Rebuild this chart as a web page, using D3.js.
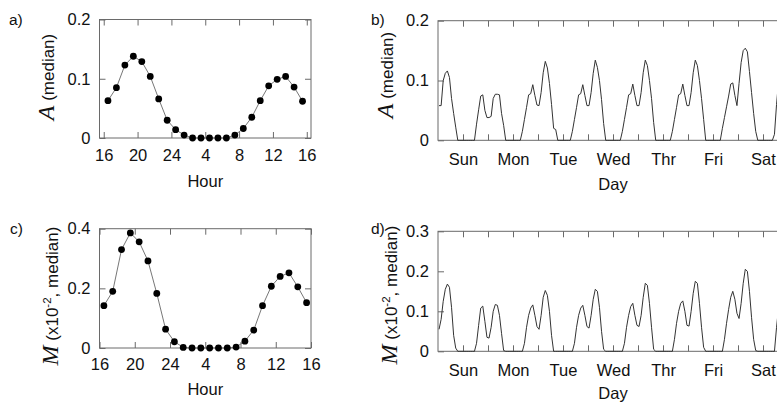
<!DOCTYPE html>
<html><head><meta charset="utf-8">
<script src="https://cdn.jsdelivr.net/npm/d3@7"></script>
<style>
body{margin:0;background:#fff}
svg{display:block}
text{font-family:"Liberation Sans",Arial,Helvetica,sans-serif;fill:#111}
</style>
</head><body>
<svg id="chart" width="777" height="402"></svg>
<script>
// ---------- data ----------
const hourX = [16.5,17.5,18.5,19.5,20.5,21.5,22.5,23.5,24.5,25.5,26.5,27.5,28.5,29.5,30.5,31.5,32.5,33.5,34.5,35.5,36.5,37.5,38.5,39.5];
const A_hour = [0.063,0.085,0.123,0.138,0.129,0.104,0.066,0.030,0.014,0.005,0,0,0,0,0,0.005,0.016,0.035,0.063,0.088,0.099,0.104,0.086,0.062];
const M_hour = [0.142,0.190,0.330,0.386,0.356,0.292,0.183,0.063,0.021,0.002,0,0,0,0,0,0.003,0.023,0.060,0.142,0.207,0.240,0.252,0.205,0.152];
const hourTicks = [16,20,24,28,32,36,40];
const hourTickLabels = ["16","20","24","4","8","12","16"];

// weekly hourly medians, one value per hour from the start of the window
const A_week = [
 0.058,0.058,0.100,0.112,0.116,0.105,0.070,0.045,0.022,0,
 0,0,0,0,0,0,0,0,0.027,0.051,
 0.074,0.076,0.050,0.038,0.038,0.040,0.070,0.077,0.077,0.076,
 0.045,0.025,0,0,0,0,0,0,0,0,
 0.015,0.035,0.055,0.076,0.078,0.093,0.075,0.059,0.058,0.080,
 0.113,0.132,0.121,0.095,0.060,0.020,0.018,0,0,0,
 0,0,0,0,0.015,0.035,0.055,0.076,0.078,0.093,
 0.075,0.058,0.058,0.080,0.112,0.134,0.122,0.100,0.068,0.028,
 0,0,0,0,0,0,0,0,0.015,0.035,
 0.055,0.076,0.078,0.094,0.075,0.058,0.058,0.080,0.113,0.134,
 0.125,0.100,0.070,0.030,0,0,0,0,0,0,
 0,0,0.015,0.035,0.055,0.076,0.078,0.094,0.075,0.058,
 0.058,0.080,0.113,0.134,0.125,0.100,0.070,0.035,0,0,
 0,0,0,0,0,0,0.020,0.038,0.056,0.074,
 0.094,0.096,0.075,0.058,0.095,0.130,0.150,0.154,0.148,0.115,
 0.080,0.045,0.015,0,0,0,0,0,0,0,
 0,0.010,0.060,0.100
];
const M_week = [
 0.055,0.080,0.125,0.155,0.168,0.160,0.110,0.040,0.008,0,
 0,0,0,0,0,0,0,0,0.020,0.065,
 0.108,0.113,0.075,0.035,0.033,0.060,0.100,0.117,0.115,0.090,
 0.045,0.002,0,0,0,0,0,0,0,0,
 0,0.020,0.060,0.090,0.108,0.116,0.090,0.062,0.055,0.090,
 0.135,0.152,0.140,0.100,0.040,0,0,0,0,0,
 0,0,0,0,0,0.020,0.060,0.090,0.108,0.115,
 0.090,0.062,0.058,0.090,0.130,0.155,0.150,0.110,0.050,0.005,
 0,0,0,0,0,0,0,0,0,0.020,
 0.060,0.090,0.112,0.120,0.090,0.065,0.062,0.090,0.135,0.170,
 0.165,0.120,0.060,0.005,0,0,0,0,0,0,
 0,0,0,0.030,0.070,0.100,0.120,0.126,0.100,0.065,
 0.063,0.100,0.145,0.175,0.170,0.120,0.060,0.010,0,0,
 0,0,0,0,0,0,0,0.030,0.070,0.105,
 0.135,0.150,0.130,0.095,0.082,0.120,0.170,0.205,0.200,0.150,
 0.085,0.030,0.002,0,0,0,0,0,0,0,
 0,0,0.060,0.110
];
const dayNames = ["Sun","Mon","Tue","Wed","Thr","Fri","Sat"];
const dayLabelHours = [12,36,60,84,108,132,156];
const weekTicks = [12,24,36,48,60,72,84,96,108,120,132,144,156,168];
const yTicksA = [0,0.1,0.2];
const yTicksB = [0,0.1,0.2];
const yTicksC = [0,0.2,0.4];
const yTicksD = [0,0.1,0.2,0.3];

// ---------- drawing ----------
const svg = d3.select("#chart");
const frameCol = "#6a6a6a";
const fs = 16.5;
const yFmt = d => d === 0 ? "0" : d.toFixed(1);

function styleAxis(g) {
  g.select(".domain").remove();
  g.selectAll(".tick line").attr("stroke", frameCol);
  g.selectAll(".tick text").attr("font-size", fs).attr("fill", "#111")
    .attr("font-family", '"Liberation Sans",Arial,sans-serif');
}

function drawFrame(x, y, xTickVals, xFmt, yTickVals, xPad, mirrorRight) {
  const [xa, xb] = x.range();
  const [yb, ya] = y.range();
  svg.append("rect").attr("x", xa).attr("y", ya).attr("width", xb - xa).attr("height", yb - ya)
    .attr("fill", "none").attr("stroke", frameCol).attr("stroke-width", 1);
  svg.append("g").attr("transform", `translate(0,${yb})`)
    .call(d3.axisBottom(x).tickValues(xTickVals).tickSize(-6).tickSizeOuter(0).tickPadding(xPad).tickFormat(xFmt))
    .call(styleAxis);
  svg.append("g").attr("transform", `translate(0,${ya})`)
    .call(d3.axisTop(x).tickValues(xTickVals).tickSize(-6).tickSizeOuter(0).tickFormat(""))
    .call(styleAxis);
  svg.append("g").attr("transform", `translate(${xa},0)`)
    .call(d3.axisLeft(y).tickValues(yTickVals).tickSize(-6).tickSizeOuter(0).tickPadding(9).tickFormat(yFmt))
    .call(styleAxis);
  if (mirrorRight) {
    svg.append("g").attr("transform", `translate(${xb},0)`)
      .call(d3.axisRight(y).tickValues(yTickVals).tickSize(-6).tickSizeOuter(0).tickFormat(""))
      .call(styleAxis);
  }
}

function yLabel(cx, cy, sym, parts) {
  const t = svg.append("text").attr("transform", `translate(${cx},${cy}) rotate(-90)`)
    .attr("text-anchor", "middle");
  t.append("tspan").attr("font-family", '"Liberation Serif","Times New Roman",serif')
    .attr("font-style", "italic").attr("font-size", 24).text(sym);
  parts.forEach(p => {
    const s = t.append("tspan").attr("font-size", p.size || 17).text(p.text);
    if (p.dy) s.attr("dy", p.dy);
  });
}

function txt(x, y, s, size, anchor) {
  svg.append("text").attr("x", x).attr("y", y).attr("font-size", size)
    .attr("text-anchor", anchor || "start").text(s);
}

// ---- panel a ----
const xa = d3.scaleLinear().domain([15.5, 40.5]).range([99.5, 311]);
const ya = d3.scaleLinear().domain([0, 0.2]).range([138, 19.5]);
drawFrame(xa, ya, hourTicks, (d, i) => hourTickLabels[i], yTicksA, 11.5, true);
svg.append("path").datum(A_hour)
  .attr("d", d3.line().x((d, i) => xa(hourX[i])).y(d => ya(d)))
  .attr("fill", "none").attr("stroke", "#777").attr("stroke-width", 1);
svg.append("g").selectAll("circle").data(A_hour).join("circle")
  .attr("cx", (d, i) => xa(hourX[i])).attr("cy", d => ya(d)).attr("r", 3.4).attr("fill", "#000");
txt(205.3, 187, "Hour", fs, "middle");
yLabel(54, 77, "A", [{text: " (median)"}]);
txt(9, 25, "a)", 15.5);

// ---- panel c ----
const xc = d3.scaleLinear().domain([16, 40]).range([99.5, 311]);
const yc = d3.scaleLinear().domain([0, 0.4]).range([348, 228.7]);
drawFrame(xc, yc, hourTicks, (d, i) => hourTickLabels[i], yTicksC, 10.5, true);
svg.append("path").datum(M_hour)
  .attr("d", d3.line().x((d, i) => xc(hourX[i])).y(d => yc(d)))
  .attr("fill", "none").attr("stroke", "#777").attr("stroke-width", 1);
svg.append("g").selectAll("circle").data(M_hour).join("circle")
  .attr("cx", (d, i) => xc(hourX[i])).attr("cy", d => yc(d)).attr("r", 3.4).attr("fill", "#000");
txt(205.3, 395, "Hour", fs, "middle");
yLabel(58, 296, "M", [{text: " (x10"}, {text: "-2", size: 11.5, dy: -7}, {text: ", median)", dy: 7}]);
txt(10, 234, "c)", 15.5);

// ---- panel b ----
const xb = d3.scaleLinear().domain([0, 168]).range([438, 788]);
const yb = d3.scaleLinear().domain([0, 0.2]).range([140.3, 20.7]);
const dayFmt = d => { const k = dayLabelHours.indexOf(d); return k >= 0 ? dayNames[k] : ""; };
drawFrame(xb, yb, weekTicks, dayFmt, yTicksB, 13, false);
svg.append("path").datum(A_week)
  .attr("d", d3.line().x((d, i) => xb(i + 0.5)).y(d => yb(d)))
  .attr("fill", "none").attr("stroke", "#333").attr("stroke-width", 1);
txt(613, 190, "Day", fs, "middle");
yLabel(393, 75, "A", [{text: " (median)"}]);
txt(371, 25, "b)", 15.5);

// ---- panel d ----
const xd = d3.scaleLinear().domain([0, 168]).range([438, 788]);
const yd = d3.scaleLinear().domain([0, 0.3]).range([351.3, 231.3]);
drawFrame(xd, yd, weekTicks, dayFmt, yTicksD, 13, false);
svg.append("path").datum(M_week)
  .attr("d", d3.line().x((d, i) => xd(i + 0.5)).y(d => yd(d)))
  .attr("fill", "none").attr("stroke", "#333").attr("stroke-width", 1);
txt(613, 399, "Day", fs, "middle");
yLabel(397, 295, "M", [{text: " (x10"}, {text: "-2", size: 11.5, dy: -7}, {text: ", median)", dy: 7}]);
txt(371, 234, "d)", 15.5);
</script>
</body></html>
